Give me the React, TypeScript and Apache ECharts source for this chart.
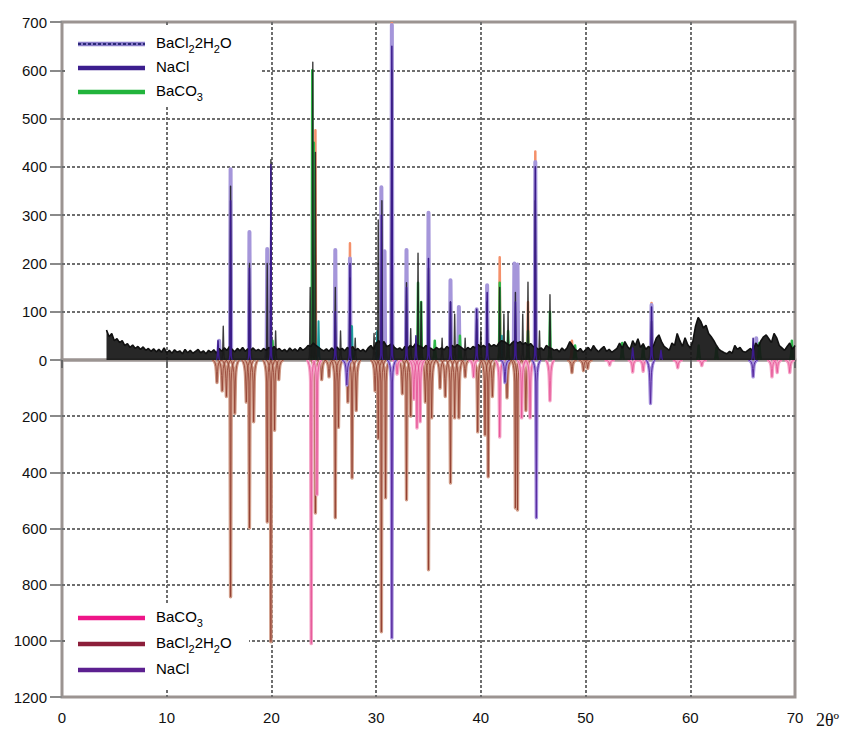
import React, { useEffect, useRef } from "react";
import * as echarts from "echarts";

// ---- axis ticks ----
const X_MIN = 0;
const X_MAX = 70;
const X_STEP = 10;
const TOP_Y_MAX = 700;
const TOP_Y_STEP = 100;
const BOTTOM_Y_MAX = 1200;
const BOTTOM_Y_STEP = 200;
const X_AXIS_TITLE = "2θº";

// ---- measured pattern (upper half): background sampled every 0.25° from 4.25° ----
const BG_START = 4.25;
const BG_STEP = 0.25;
const measuredBackground = [
  62, 48, 55, 40, 44, 36, 40, 30, 34, 26, 31, 24, 28, 22, 27, 20,
  24, 18, 23, 17, 22, 16, 25, 15, 20, 14, 21, 16, 19, 13, 22, 15,
  20, 14, 18, 22, 15, 19, 13, 20, 16, 21, 14, 24, 18, 25, 20, 28,
  22, 17, 24, 19, 26, 18, 23, 20, 25, 19, 22, 18, 24, 20, 26, 22,
  28, 21, 24, 18, 22, 17, 25, 19, 23, 18, 26, 20, 24, 30, 28, 35,
  30, 26, 22, 19, 23, 18, 25, 20, 27, 21, 24, 19, 26, 22, 28, 20,
  24, 18, 22, 17, 25, 30, 22, 35, 40, 32, 38, 28, 30, 34, 26, 22,
  25, 20, 28, 24, 30, 26, 34, 30, 28, 24, 30, 26, 24, 20, 26, 22,
  25, 21, 28, 24, 30, 26, 32, 28, 24, 20, 26, 22, 28, 25, 32, 27,
  30, 26, 34, 28, 32, 28, 36, 40, 38, 34, 30, 36, 40, 35, 38, 32,
  36, 30, 34, 28, 26, 22, 25, 20, 30, 26, 24, 20, 22, 17, 25, 19,
  26, 38, 30, 22, 18, 24, 16, 21, 26, 19, 30, 22, 17, 23, 28, 18,
  22, 16, 20, 24, 35, 24, 38, 28, 22, 40, 30, 44, 26, 34, 22, 28,
  24, 30, 45, 52, 38, 28, 24, 20, 35, 30, 55, 40, 28, 46, 32, 25,
  40, 70, 88, 80, 66, 72, 55, 48, 40, 30, 22, 18, 15, 13, 18, 14,
  30, 22, 26, 18, 16, 20, 24, 18, 35, 28, 40, 48, 52, 44, 36, 55,
  46, 30, 25, 20, 28, 35, 22, 30,
];

// measured peak maxima [2θ, intensity]
const measuredPeaks = [
  [15.4, 70], [16.1, 360], [17.9, 200], [19.6, 200], [19.95, 415], [20.4, 60],
  [23.7, 150], [23.95, 617], [24.2, 430], [26.1, 150], [26.6, 60], [27.5, 170],
  [28.0, 45], [29.8, 55], [30.2, 290], [30.55, 330], [31.5, 600], [32.9, 160],
  [33.3, 65], [34.0, 221], [34.3, 120], [35.0, 190], [36.3, 45], [37.1, 120],
  [37.5, 95], [38.5, 45], [39.6, 85], [40.0, 60], [40.6, 120], [41.8, 150],
  [42.2, 95], [42.6, 100], [43.3, 140], [44.0, 95], [44.5, 161], [45.2, 330],
  [45.6, 60], [46.6, 135], [56.3, 80],
];

// fitted phase profiles (upper half)
const fitBaCl2 = [
  [24.0, 300], [24.2, 476], [27.5, 242], [30.6, 200], [31.5, 700], [41.8, 213],
  [43.6, 60], [44.5, 120], [45.2, 432], [48.7, 40], [56.3, 118],
];
const fitNaClLight = [
  [15.0, 40], [16.1, 395], [17.9, 265], [19.6, 230], [26.1, 228], [27.5, 210],
  [30.5, 358], [30.8, 225], [31.5, 694], [32.9, 228], [35.0, 305], [37.1, 165],
  [37.9, 110], [39.6, 105], [40.6, 155], [43.2, 200], [43.5, 198], [45.2, 410],
  [56.3, 114], [66.3, 45],
];
const fitNaClDark = [
  [14.9, 40], [16.1, 330], [17.9, 190], [19.95, 405], [26.1, 100], [27.5, 200],
  [30.5, 300], [31.5, 650], [32.9, 150], [33.8, 50], [35.0, 210], [37.1, 120],
  [39.6, 105], [40.6, 140], [43.3, 120], [45.2, 400], [54.5, 25], [56.3, 110],
  [57.2, 20], [66.0, 45],
];
const fitBaCO3 = [
  [20.1, 40], [23.9, 600], [24.05, 450], [27.6, 70], [34.0, 160], [34.3, 120],
  [35.6, 40], [38.0, 50], [41.8, 160], [42.6, 60], [44.5, 60], [46.6, 100],
  [49.0, 30], [53.5, 35], [55.5, 30], [60.8, 30], [62.5, 25], [66.6, 35], [69.7, 40],
];
const fitOther = [[24.5, 80], [27.7, 70], [30.1, 60], [42.0, 50]];

// reference patterns (lower half, plotted downward)
const refBaCO3 = [
  [23.8, 1010], [24.35, 480], [32.0, 50], [33.6, 140], [33.9, 242], [34.2, 220],
  [39.3, 60], [41.8, 274], [43.9, 206], [44.7, 206], [46.6, 145], [52.3, 18],
  [54.5, 43], [55.5, 40], [58.8, 28], [61.1, 20], [67.8, 60], [68.3, 45], [69.5, 45],
];
const refBaCl2 = [
  [14.8, 80], [15.3, 110], [15.7, 130], [16.1, 843], [16.5, 190], [17.6, 150],
  [17.9, 598], [18.3, 220], [19.6, 577], [19.95, 1003], [20.3, 250], [20.7, 70],
  [24.2, 545], [24.8, 70], [25.5, 60], [26.1, 562], [26.4, 240], [27.3, 150],
  [27.7, 420], [28.1, 180], [29.9, 110], [30.2, 280], [30.5, 968], [30.9, 491],
  [32.5, 120], [32.9, 498], [33.3, 200], [34.7, 150], [35.0, 747], [35.3, 206],
  [36.1, 100], [36.6, 130], [37.1, 438], [37.5, 206], [37.9, 206], [38.5, 60],
  [39.7, 256], [40.4, 267], [40.7, 416], [41.1, 130], [42.5, 135], [43.3, 527],
  [43.5, 534], [44.3, 180], [48.7, 45], [49.8, 38], [50.2, 30],
];
const refNaCl = [[27.2, 89], [31.5, 990], [42.3, 80], [45.3, 562], [56.2, 155], [66.0, 60]];

const FONT = "'Liberation Sans', Arial, Helvetica, sans-serif";

function peakSeries(
  name: string,
  data: number[][],
  axis: number,
  color: string,
  width: number,
  half: number,
  flareMax: number,
  z: number,
  opacity = 1
) {
  return {
    type: "custom",
    name,
    xAxisIndex: axis,
    yAxisIndex: axis,
    data,
    z,
    clip: true,
    silent: true,
    encode: { x: 0, y: 1 },
    renderItem: (_params: any, api: any) => {
      const x = api.value(0);
      const h = api.value(1);
      const b = api.coord([x, 0]);
      const t = api.coord([x, h]);
      const d = t[1] - b[1];
      const f = Math.sign(d) * Math.min(Math.abs(d) * 0.5, flareMax);
      const p =
        `M${b[0] - half} ${b[1]} Q${b[0] - 1} ${b[1]} ${b[0] - 0.6} ${b[1] + f} ` +
        `L${t[0]} ${t[1]} L${b[0] + 0.6} ${b[1] + f} Q${b[0] + 1} ${b[1]} ${b[0] + half} ${b[1]}`;
      return {
        type: "path",
        shape: { pathData: p },
        style: { stroke: color, fill: "none", lineWidth: width, lineJoin: "round", opacity },
      };
    },
  };
}

const rich = {
  a: { fontSize: 15, fontFamily: FONT, color: "#111", lineHeight: 18, verticalAlign: "top" },
  b: { fontSize: 11, fontFamily: FONT, color: "#111", lineHeight: 11, padding: [8, 0, 0, 0], verticalAlign: "top" },
};
const BACL2_RICH = "{a|BaCl}{b|2}{a|2H}{b|2}{a|O}";
const BACO3_RICH = "{a|BaCO}{b|3}";
const NACL_RICH = "{a|NaCl}";

function legendItem(y: number, text: string, color: string, extra?: any) {
  const els: any[] = [
    { type: "line", z: 20, shape: { x1: 78, y1: y, x2: 145, y2: y }, style: { stroke: color, lineWidth: 4.5 } },
  ];
  if (extra) els.push(extra);
  els.push({
    type: "text",
    z: 20,
    x: 156,
    y: y,
    style: { text, rich, verticalAlign: "middle", align: "left" },
  });
  return els;
}

export default function App() {
  const ref = useRef<HTMLDivElement>(null);
  useEffect(() => {
    if (!ref.current) return;
    const chart = echarts.init(ref.current, null, { renderer: "svg" });

    const bgData = measuredBackground.map((v, i) => [BG_START + i * BG_STEP, v]);

    const splitStyle = { color: "#6e6e6e", width: 2, type: [3, 2] };
    const xBase = {
      type: "value",
      min: X_MIN,
      max: X_MAX,
      interval: X_STEP,
      splitLine: { show: true, showMinLine: false, showMaxLine: false, lineStyle: splitStyle },
      axisLine: { show: false },
    };
    const plain = (v: number) => String(v);

    const option: any = {
      animation: false,
      backgroundColor: "#ffffff",
      grid: [
        { left: 62, right: 50, top: 22, height: 338, show: true, borderColor: "#9b9491", borderWidth: 3, backgroundColor: "transparent" },
        { left: 62, right: 50, top: 360, height: 337, show: true, borderColor: "#9b9491", borderWidth: 3, backgroundColor: "transparent" },
      ],
      xAxis: [
        { ...xBase, gridIndex: 0, axisTick: { show: false }, axisLabel: { show: false } },
        {
          ...xBase,
          gridIndex: 1,
          axisTick: { show: true, length: 8, lineStyle: { color: "#666", width: 2 } },
          axisLabel: { show: true, margin: 13, fontSize: 15, fontFamily: FONT, color: "#111", formatter: plain },
        },
      ],
      yAxis: [
        {
          gridIndex: 0,
          type: "value",
          min: 0,
          max: TOP_Y_MAX,
          interval: TOP_Y_STEP,
          axisLine: { show: false },
          axisTick: { show: true, length: 12, lineStyle: { color: "#8a8a8a", width: 2 } },
          axisLabel: { margin: 15, fontSize: 15, fontFamily: FONT, color: "#111", formatter: plain },
          splitLine: { show: true, showMinLine: false, showMaxLine: false, lineStyle: splitStyle },
        },
        {
          gridIndex: 1,
          type: "value",
          inverse: true,
          min: 0,
          max: BOTTOM_Y_MAX,
          interval: BOTTOM_Y_STEP,
          axisLine: { show: false },
          axisTick: { show: true, length: 12, lineStyle: { color: "#8a8a8a", width: 2 } },
          axisLabel: { margin: 15, fontSize: 15, fontFamily: FONT, color: "#111", showMinLabel: false, formatter: plain },
          splitLine: { show: true, showMinLine: false, showMaxLine: false, lineStyle: splitStyle },
        },
      ],
      series: [
        // upper half
        peakSeries("BaCl2·2H2O fit", fitBaCl2, 0, "#f4906a", 2.5, 2.5, 8, 2),
        peakSeries("NaCl fit (light)", fitNaClLight, 0, "#a596da", 4, 2.5, 8, 3),
        peakSeries("BaCO3 fit", fitBaCO3, 0, "#2fb84a", 2.5, 2.5, 8, 4),
        peakSeries("other fit", fitOther, 0, "#1f9c9c", 2, 2.5, 8, 4),
        {
          type: "line",
          name: "measured",
          xAxisIndex: 0,
          yAxisIndex: 0,
          data: bgData,
          showSymbol: false,
          z: 5,
          lineStyle: { color: "#111111", width: 1.6 },
          areaStyle: { color: "#151515", opacity: 0.92 },
          silent: true,
        },
        peakSeries("measured peaks", measuredPeaks, 0, "#1a1a1a", 1.4, 2, 6, 5, 0.85),
        peakSeries("NaCl fit", fitNaClDark, 0, "#3b1b8c", 1.5, 2, 6, 6),
        // lower half
        peakSeries("BaCl2·2H2O ref", refBaCl2, 1, "#cf9a86", 3.4, 5, 22, 2),
        peakSeries("BaCl2·2H2O ref core", refBaCl2, 1, "#8d3a2c", 1, 5, 22, 3, 0.75),
        peakSeries("BaCO3 ref", refBaCO3, 1, "#f5a2c6", 3.4, 5, 22, 4),
        peakSeries("BaCO3 ref core", refBaCO3, 1, "#e2478f", 1, 5, 22, 4, 0.7),
        peakSeries("NaCl ref", refNaCl, 1, "#a58fdc", 3.4, 5, 22, 5),
        peakSeries("NaCl ref core", refNaCl, 1, "#5a2ca0", 1, 5, 22, 5),
      ],
      graphic: [
        { type: "rect", z: 15, shape: { x: 66, y: 25, width: 194, height: 82 }, style: { fill: "#ffffff" } },
        { type: "rect", z: 15, shape: { x: 66, y: 603, width: 183, height: 85 }, style: { fill: "#ffffff" } },
        ...legendItem(44, BACL2_RICH, "#8d7fcb", {
          type: "line",
          z: 21,
          shape: { x1: 78, y1: 44, x2: 145, y2: 44 },
          style: { stroke: "#2b2a78", lineWidth: 2, lineDash: [3, 2] },
        }),
        ...legendItem(68, NACL_RICH, "#3c1e8e"),
        ...legendItem(92, BACO3_RICH, "#22b43c"),
        ...legendItem(618, BACO3_RICH, "#ee1588"),
        ...legendItem(644, BACL2_RICH, "#8c1e3a"),
        ...legendItem(670, NACL_RICH, "#5c2090"),
        {
          type: "text",
          z: 20,
          x: 816,
          y: 720,
          style: {
            text: X_AXIS_TITLE,
            fontSize: 18,
            fontFamily: "'Liberation Serif', 'Times New Roman', serif",
            fill: "#111",
            verticalAlign: "middle",
          },
        },
      ],
    };
    chart.setOption(option);
    return () => chart.dispose();
  }, []);
  return (
    <div
      ref={ref}
      style={{ position: "fixed", left: 0, top: 0, width: 845, height: 732, background: "#fff" }}
    />
  );
}
